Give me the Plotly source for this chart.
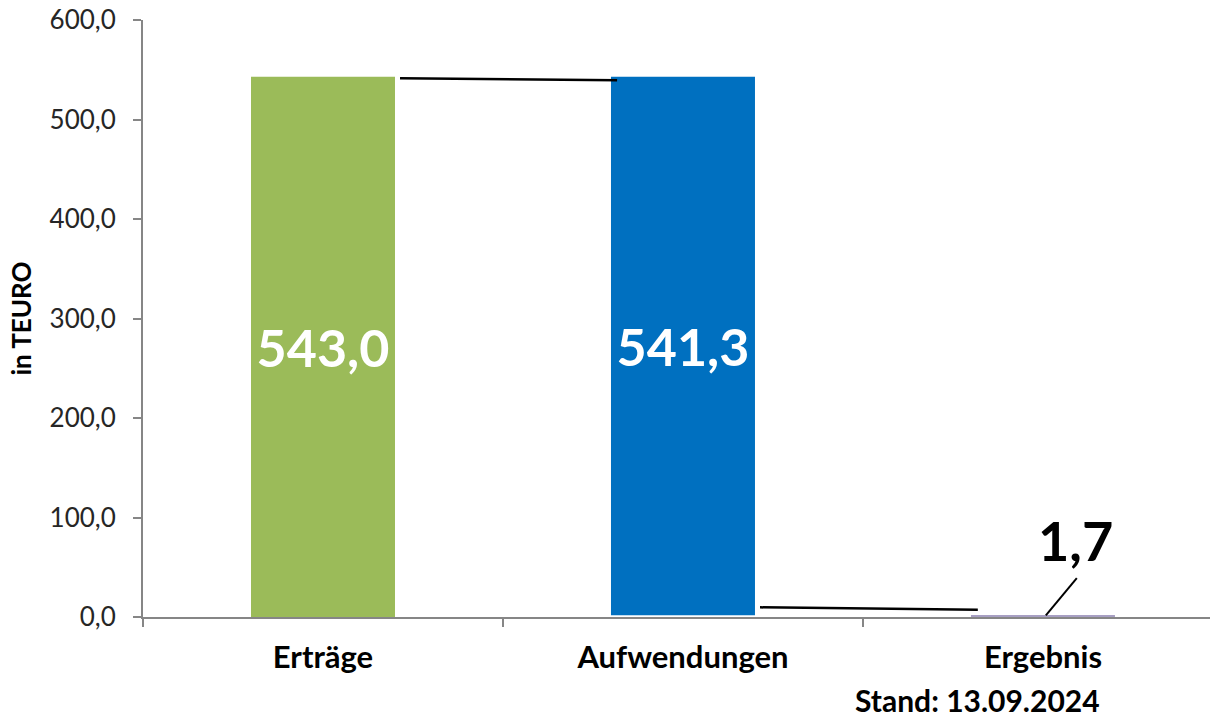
import plotly.graph_objects as go

categories = ["Erträge", "Aufwendungen", "Ergebnis"]
ertraege = 543.0
aufwendungen = 541.3
ergebnis = 1.7
values = [ertraege, aufwendungen, ergebnis]
bases = [0, ergebnis, 0]
labels = ["543,0", "541,3", ""]
colors = ["#9BBB59", "#0070C0", "#A79FC3"]
y_ticks = [0, 100, 200, 300, 400, 500, 600]
y_ticktext = ["0,0", "100,0", "200,0", "300,0", "400,0", "500,0", "600,0"]
stand_text = "Stand: 13.09.2024"
ergebnis_label = "1,7"

FONT = "Lato"

fig = go.Figure()
fig.add_trace(go.Bar(
    x=categories, y=values, base=bases,
    width=0.4,
    marker=dict(color=colors, line=dict(width=0)),
    text=labels, textposition="inside", insidetextanchor="middle",
    constraintext="none",
    textfont=dict(family=FONT, size=52, color="white", weight="bold"),
    hoverinfo="skip",
))

line_style = dict(color="black", width=2.5)
# connector lines
fig.add_shape(type="line", xref="x", yref="y",
              x0=0.214, x1=0.817, y0=ertraege - 1.5, y1=ertraege - 3.5, line=line_style)
fig.add_shape(type="line", xref="x", yref="y",
              x0=1.214, x1=1.819, y0=ergebnis + 8.0, y1=ergebnis + 5.6, line=line_style)
# leader line for Ergebnis label
fig.add_shape(type="line", xref="x", yref="y",
              x0=2.094, x1=2.008, y0=39, y1=ergebnis, line=dict(color="black", width=2))

fig.add_annotation(x=2.09, y=77, xref="x", yref="y", text=ergebnis_label, showarrow=False,
                   font=dict(family=FONT, size=54, color="black", weight="bold"))

fig.add_annotation(x=(977 - 143) / 1067, y=-(700 - 617) / 597, xref="paper", yref="paper",
                   text=stand_text, showarrow=False, xanchor="center", yanchor="middle",
                   font=dict(family=FONT, size=30, color="black", weight="bold"))

fig.update_layout(
    width=1210, height=718,
    margin=dict(l=143, r=0, t=20, b=101),
    plot_bgcolor="white", paper_bgcolor="white",
    showlegend=False,
    bargap=0.6,
    font=dict(family=FONT, color="#262626"),
)

fig.update_xaxes(
    type="category",
    range=[-0.5, 2.464],
    automargin=False,
    showline=True, linecolor="#868686", linewidth=2,
    ticks="outside", tickson="boundaries", ticklen=8, tickcolor="#868686", tickwidth=2,
    showgrid=False, zeroline=False,
    tickfont=dict(family=FONT, size=31, color="black", weight="bold"),
    ticklabelstandoff=12,
)

fig.update_yaxes(
    range=[0, 600],
    automargin=False,
    tickmode="array", tickvals=y_ticks, ticktext=y_ticktext,
    showline=True, linecolor="#868686", linewidth=2,
    ticks="outside", ticklen=8, tickcolor="#868686", tickwidth=2,
    showgrid=False, zeroline=False,
    tickfont=dict(family=FONT, size=26, color="#262626"),
    ticklabelstandoff=12,
    title=dict(text="in TEURO", font=dict(family=FONT, size=26, color="black", weight="bold"), standoff=10),
)

fig.write_html("out.html", config={"displayModeBar": False},
               post_script="document.body.style.margin='0';document.body.style.overflow='hidden';")
